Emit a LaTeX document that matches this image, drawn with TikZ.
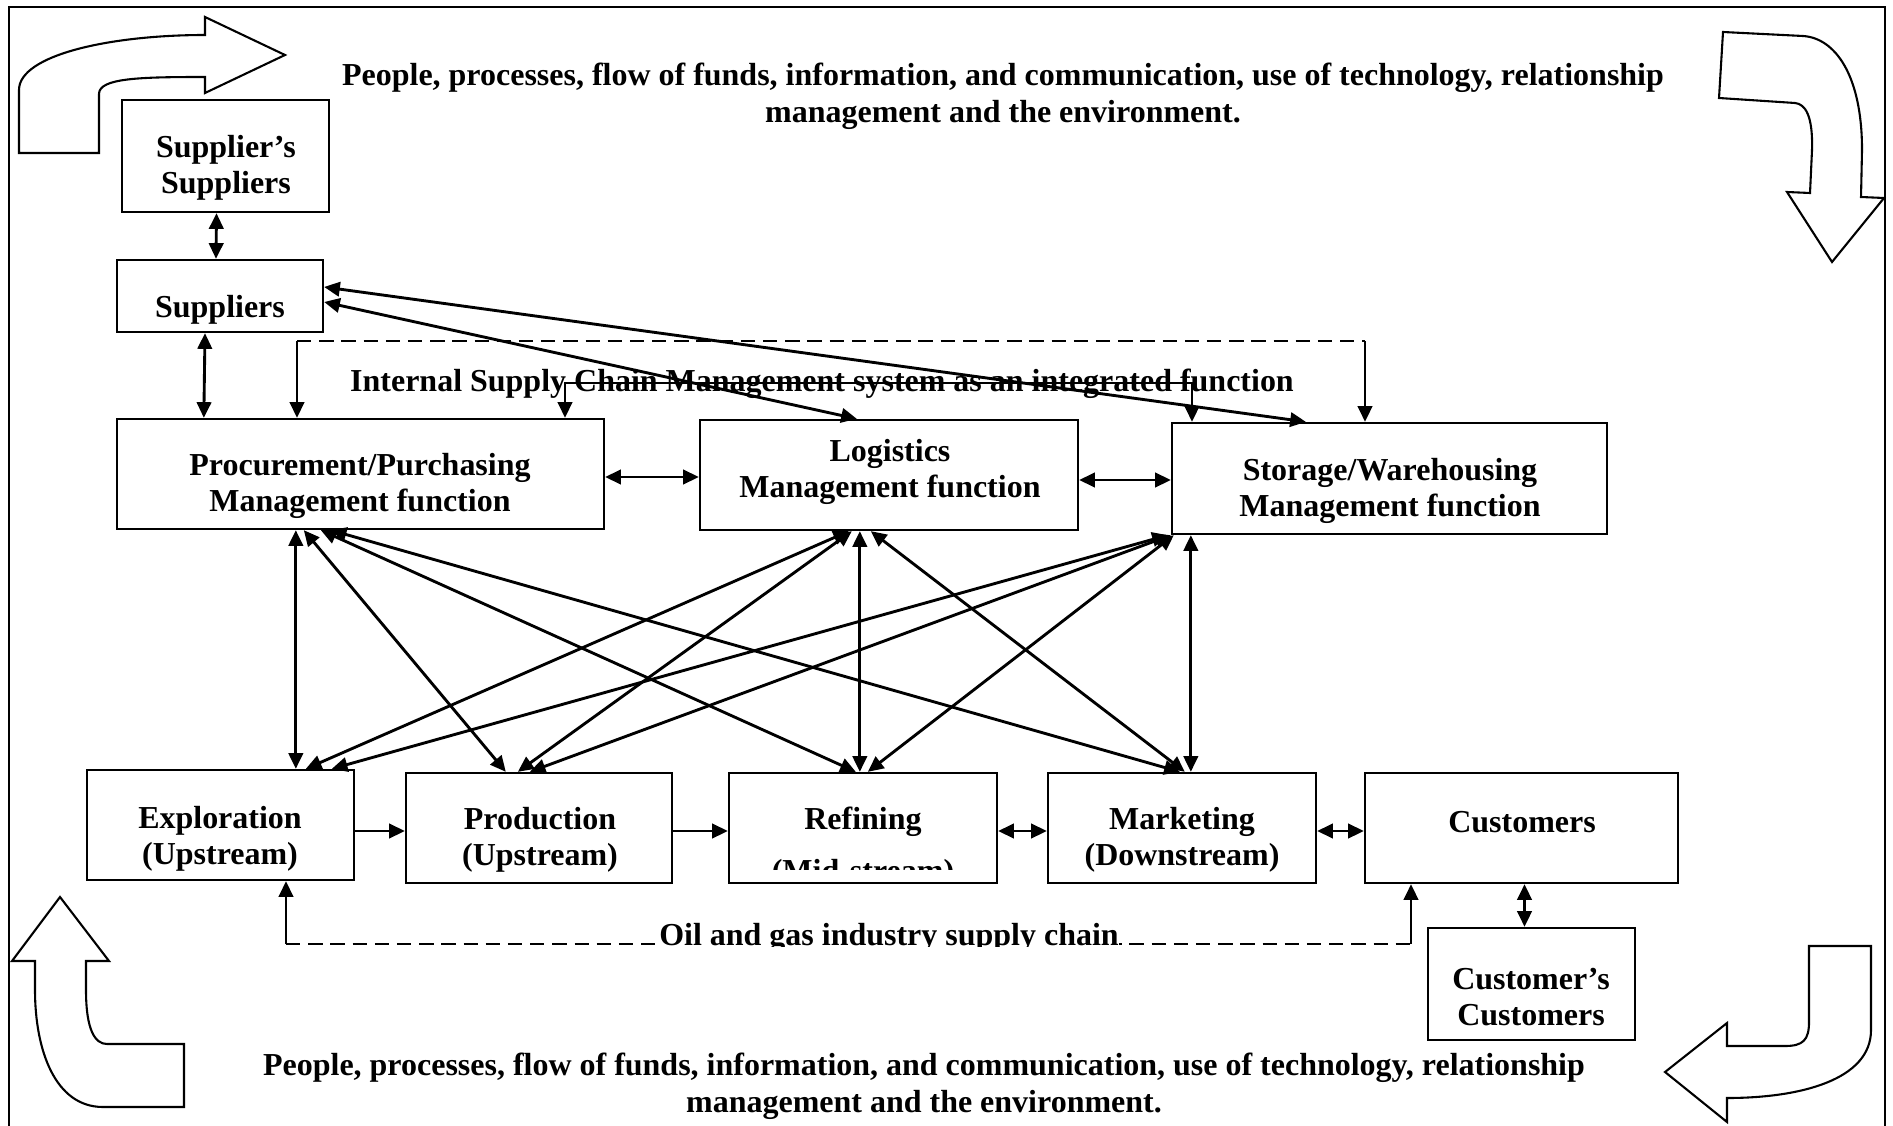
\documentclass[tikz,border=0pt]{standalone}
\usepackage{fontspec}
\setmainfont{Liberation Serif}
\usetikzlibrary{arrows.meta, calc}

\newcommand{\pxu}{0.383pt}

\tikzset{
  box/.style 2 args={draw, line width=0.9pt, inner sep=0pt, minimum width=#1*\pxu, minimum height=#2*\pxu},
  txt/.style={font=\bfseries\fontsize{12.25}{14}\selectfont, align=center, inner sep=0pt},
  link/.style={line width=1.1pt},
  dashline/.style={line width=0.8pt, dash pattern=on 5.5pt off 3pt},
  bigarrow/.style={draw, line width=0.8pt, line join=miter},
  >={Triangle[length=6pt,width=5.5pt]}
}

\begin{document}
\begin{tikzpicture}[x=\pxu, y=-\pxu]
\useasboundingbox (0,0) rectangle (1893,1126);
\draw[line width=0.8pt] (9,7) rectangle (1885,1140);

% corner arrows
\draw[bigarrow] (19,153) -- (19,90) .. controls (19,55) and (110,35) .. (205,35) -- (205,17) -- (285,55) -- (205,93) -- (205,77) .. controls (140,77) and (99,78) .. (99,94) -- (99,153) -- cycle;
\draw[bigarrow] (1723,32) -- (1803,36) .. controls (1835,38) and (1862,75) .. (1862,150) -- (1861,197) -- (1884,198) -- (1832,262) -- (1787,192) -- (1810,193) -- (1812,150) .. controls (1813,115) and (1805,104) .. (1795,103) -- (1719,98) -- cycle;
\draw[bigarrow] (60,897) -- (109,961) -- (86,961) -- (86,990) .. controls (86,1030) and (95,1044) .. (107,1044) -- (184,1044) -- (184,1107) -- (103,1107) .. controls (55,1107) and (35,1050) .. (35,990) -- (35,961) -- (12,961) -- cycle;
\draw[bigarrow] (1809,946) -- (1871,946) -- (1871,1030) .. controls (1871,1080) and (1800,1098) .. (1727,1098) -- (1727,1122) -- (1665,1072) -- (1727,1023) -- (1727,1046) -- (1785,1046) .. controls (1803,1046) and (1809,1040) .. (1809,1022) -- cycle;

\node[txt] (toptext) at (1003,96) {People, processes, flow of funds, information, and communication, use of technology, relationship\\management and the environment.};
\node[txt] (bottext) at (924,1086) {People, processes, flow of funds, information, and communication, use of technology, relationship\\management and the environment.};

% boxes
\node[box={207}{112}] (ss) at (225.5,156) {};
\node[txt] (ss-t) at (226,168) {Supplier’s\\Suppliers};
\node[box={206}{72}] (sup) at (220,296) {};
\node[txt] (sup-t) at (220,310) {Suppliers};
\node[box={487}{110}] (proc) at (360.5,474) {};
\node[txt] (proc-t) at (360,486) {Procurement/Purchasing\\Management function};
\node[box={378}{110}] (log) at (889,475) {};
\node[txt] (log-t) at (890,472) {Logistics\\Management function};
\node[box={435}{111}] (stor) at (1389.5,478.5) {};
\node[txt] (stor-t) at (1390,491) {Storage/Warehousing\\Management function};
\node[box={267}{110}] (expl) at (220.5,825) {};
\node[txt] (expl-t) at (220,839) {Exploration\\(Upstream)};
\node[box={266}{110}] (prod) at (539,828) {};
\node[txt] (prod-t) at (540,840) {Production\\(Upstream)};
\node[box={268}{110}] (ref) at (863,828) {};
\begin{scope}
  \clip (ref.north west) rectangle ($(ref.south east)+(0,-15)$);
  \node[txt, anchor=base] (ref-t1) at (863,829) {Refining};
  \node[txt, anchor=base] (ref-t2) at (863,881) {(Mid-stream)};
\end{scope}
\node[box={268}{110}] (mkt) at (1182,828) {};
\node[txt] (mkt-t) at (1182,840) {Marketing\\(Downstream)};
\node[box={313}{110}] (cust) at (1521.5,828) {};
\node[txt] (cust-t) at (1522,822) {Customers};
\node[box={207}{112}] (cc) at (1531.5,984) {};
\node[txt] (cc-t) at (1531,997) {Customer’s\\Customers};

% supplier links
\draw[link,<->] ($(ss.south)+(-9,0)$) -- ($(sup.north)+(-4,0)$);
\draw[link,<->] ($(sup.south)+(-15,0)$) -- ($(proc.north west)+(88,0)$);
\draw[link,<->] ($(sup.east)+(0,6)$) -- ($(log.north west)+(158,0)$);
\draw[link,<->] ($(sup.east)+(0,-9)$) -- ($(stor.north west)+(135,0)$);

% internal supply chain
\coordinate (dash-l) at (297,341);
\coordinate (dash-r) at (1365,341);
\draw[dashline] (dash-l) -- (dash-r);
\draw[link,->] (dash-l) -- (dash-l |- proc.north);
\draw[link,->] (dash-r) -- (dash-r |- stor.north);
\node[txt, anchor=base] (isc) at (822,391) {Internal Supply Chain Management system as an integrated function};
\coordinate (int-l) at (565,383);
\coordinate (int-r) at (1192,383);
\draw[link,<->] (int-l |- proc.north) -- (int-l) -- (int-r) -- (int-r |- stor.north);

\draw[link,<->] ($(proc.east)+(0,3)$) -- ($(log.west)+(0,2)$);
\draw[link,<->] ($(log.east)+(0,5)$) -- ($(stor.west)+(0,1.5)$);

% functions to chain stages
\draw[link,<->] ($(proc.south west)+(180,0)$) -- ($(expl.north west)+(210,0)$);
\draw[link,<->] ($(proc.south west)+(188,0)$) -- ($(prod.north west)+(101,0)$);
\draw[link,<->] ($(proc.south west)+(205,0)$) -- ($(ref.north west)+(128,0)$);
\draw[link,<->] ($(proc.south west)+(215,0)$) -- ($(mkt.north west)+(133,0)$);
\draw[link,<->] ($(log.south west)+(150,0)$) -- ($(expl.north west)+(220,0)$);
\draw[link,<->] ($(log.south west)+(153,0)$) -- ($(prod.north west)+(113,0)$);
\draw[link,<->] ($(log.south west)+(161,0)$) -- ($(ref.north west)+(132,0)$);
\draw[link,<->] ($(log.south west)+(172,0)$) -- ($(mkt.north west)+(138,0)$);
\draw[link,<->] ($(stor.south west)+(-3,0)$) -- ($(expl.north west)+(246,0)$);
\draw[link,<->] (stor.south west) -- ($(prod.north west)+(125,0)$);
\draw[link,<->] ($(stor.south west)+(3,0)$) -- ($(ref.north west)+(140,0)$);
\draw[link,<->] ($(stor.south west)+(20,0)$) -- ($(mkt.north west)+(144,0)$);

% oil and gas chain
\draw[link,->] ($(expl.east)+(0,6)$) -- ($(prod.west)+(0,3)$);
\draw[link,->] ($(prod.east)+(0,3)$) -- ($(ref.west)+(0,3)$);
\draw[link,<->] ($(ref.east)+(0,3)$) -- ($(mkt.west)+(0,3)$);
\draw[link,<->] ($(mkt.east)+(0,3)$) -- ($(cust.west)+(0,3)$);
\draw[link,<->] ($(cust.south)+(3,0)$) -- ($(cc.north)+(-7,0)$);

\coordinate (oil-l) at (286,944);
\coordinate (oil-r) at (1411,944);
\draw[dashline] (oil-l) -- (oil-r);
\draw[link,->] (oil-l) -- (oil-l |- expl.south);
\draw[link,->] (oil-r) -- (oil-r |- cust.south);
\begin{scope}
  \clip ($(oil-l)+(0,2)$) rectangle ($(oil-r)+(0,-40)$);
  \node[txt, anchor=base, fill=white] (oil) at (889,945) {Oil and gas industry supply chain};
\end{scope}
\end{tikzpicture}
\end{document}
